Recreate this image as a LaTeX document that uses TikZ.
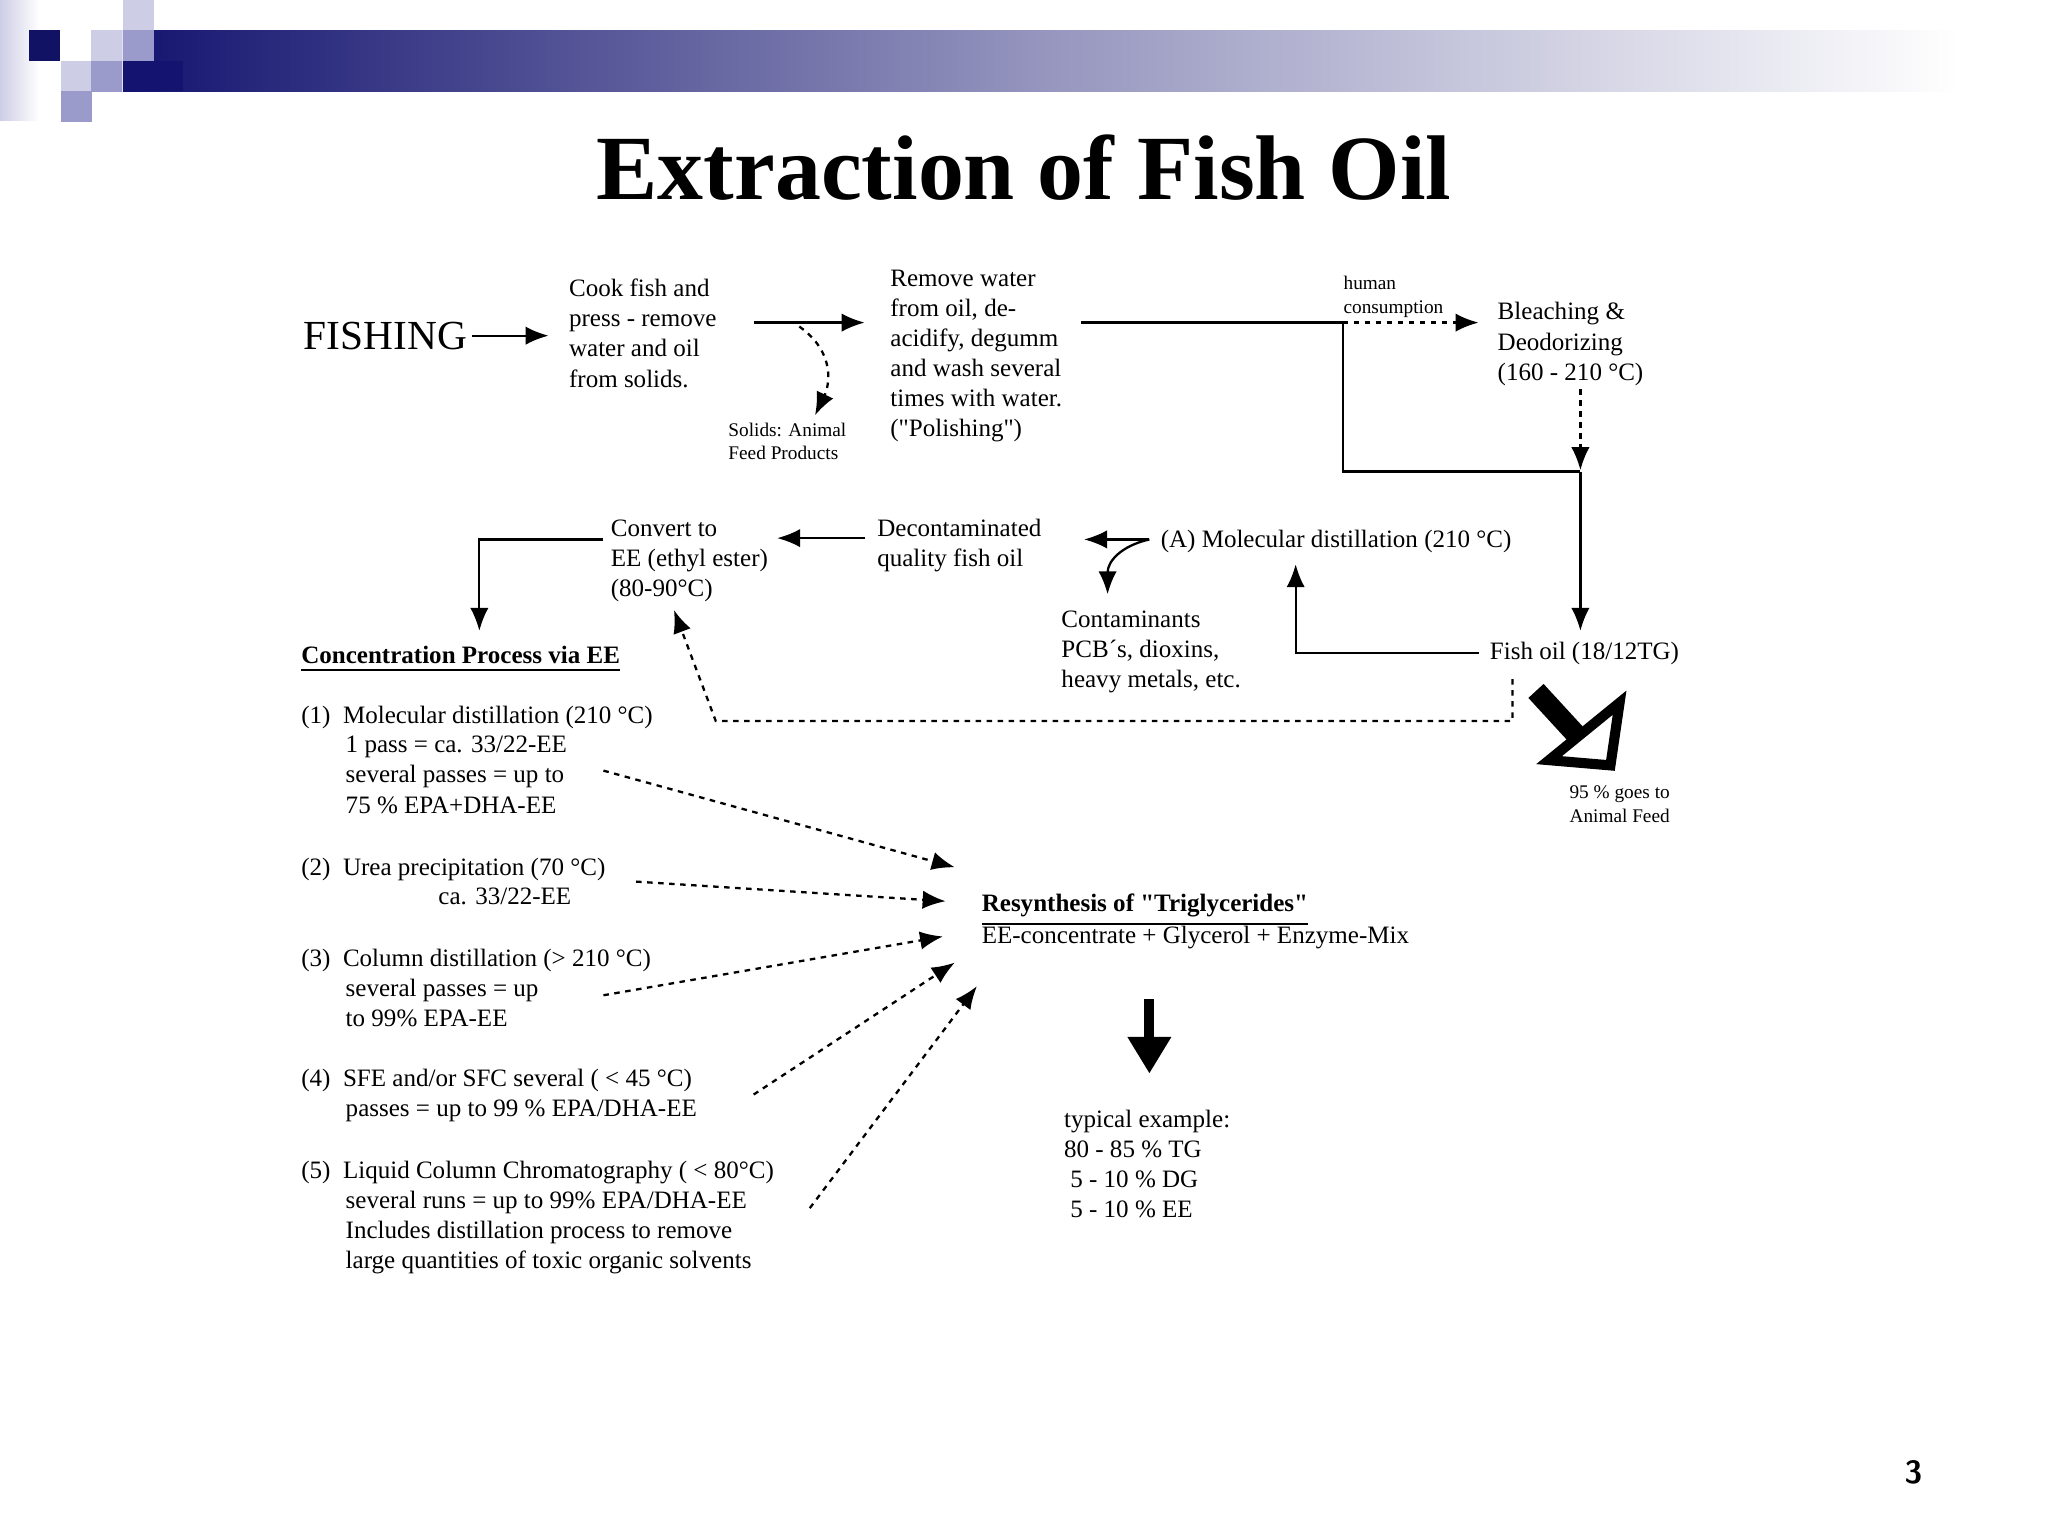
\documentclass[tikz,border=0pt]{standalone}
\usepackage{fontspec}
\setmainfont{Liberation Serif}
\usetikzlibrary{arrows.meta}
\definecolor{navy}{HTML}{141470}
\definecolor{lav}{HTML}{CDCDE6}
\definecolor{med}{HTML}{9A9ACB}
\newcommand{\dq}{\textquotedbl}
\begin{document}
\begin{tikzpicture}[x=0.01cm,y=-0.01cm,
  t/.style={anchor=north west,inner sep=0pt,align=left,font=\fontsize{5.45}{6.55}\selectfont},
  sm/.style={anchor=north west,inner sep=0pt,align=left,font=\fontsize{4.2}{5.1}\selectfont},
  ln/.style={line width=0.5pt},
  ar/.style={ln,-{Latex[length=5pt,width=4pt]}},
  dar/.style={ar,dash pattern=on 1.2pt off 1.2pt}]
\useasboundingbox (0,0) rectangle (1568,1176);
% header decoration
\shade[left color=lav,right color=white] (0,0) rectangle (30,92);
\shade[left color=navy,right color=white,middle color=navy!45!white] (94,23) rectangle (1500,70);
\fill[navy] (94,47) rectangle (140,70);
\def\s{23.7}
\fill[navy!90!black] (22,23) rectangle ++(\s,\s);
\fill[lav] (70,23) rectangle ++(\s,\s);
\fill[lav] (94,0) rectangle ++(\s,\s);
\fill[med] (94,23) rectangle ++(\s,\s);
\fill[lav] (47,47) rectangle ++(\s,\s);
\fill[med] (70,47) rectangle ++(\s,\s);
\fill[med] (47,70) rectangle ++(\s,\s);
% title
\node[inner sep=0pt,font=\bfseries\fontsize{20}{24}\selectfont] (title) at (784,128) {Extraction of Fish Oil};
% top row
\node[inner sep=0pt,anchor=west,font=\fontsize{9}{10}\selectfont] (fish) at (232,257) {FISHING};
\node[t] (cook) at (435,213) {Cook fish and\\press - remove\\water and oil\\from solids.};
\node[t] (remove) at (681,206) {Remove water\\from oil, de-\\acidify, degumm\\and wash several\\times with water.\\(\dq Polishing\dq)};
\node[sm] (solids) at (557,323) {Solids: Animal\\Feed Products};
\node[sm] (human) at (1028,211) {human\\consumption};
\node[t] (bleach) at (1146,231) {Bleaching \&\\Deodorizing\\(160 - 210 °C)};
\draw[ar] (fish.east) ++(3,0) -- (420,257);
\draw[ar] (577,247) -- (662,247);
\draw[dar] (612,250) .. controls (640,270) and (635,295) .. (624,318);
\draw[ln] (828,247) -- (1028,247) -- (1028,361) -- (1210,361);
\draw[dar] (1028,247) -- (1132,247);
\draw[dar] (1210,298) -- (1210,360);
\draw[ar] (1210,361) -- (1210,483);
% middle row
\node[t] (fishoil) at (1140,491) {Fish oil (18/12TG)};
\node[t] (molA) at (888,405) {(A) Molecular distillation (210 °C)};
\node[t] (cont) at (812,467) {Contaminants\\PCB´s, dioxins,\\heavy metals, etc.};
\node[t] (decon) at (671,397) {Decontaminated\\quality fish oil};
\node[t] (conv) at (467,397) {Convert to\\EE (ethyl ester)\\(80-90°C)};
\draw[ar] (1132,500) -- (992,500) -- (992,432);
\draw[ar] (880,413) -- (830,413);
\draw[ar] (880,413) .. controls (858,418) and (848,430) .. (848,455);
\draw[ar] (662,412) -- (595,412);
\draw[ar] (462,413) -- (367,413) -- (367,483);
\draw[dar] (1158,520) -- (1158,552) -- (548,552) -- (516,467);
% big hollow arrow
\draw[line width=4.5pt] (1176,529) -- (1210,566);
\draw[line width=2.2pt,fill=white,line join=miter] (1240,538) -- (1233,586) -- (1186,582) -- cycle;
\node[sm] (feed) at (1201,601) {95 \% goes to\\Animal Feed};
% concentration list
\node[t,font=\bfseries\fontsize{5.45}{6.55}\selectfont] (conc) at (230,494) {\underline{Concentration Process via EE}};
\node[t] (i1) at (230,540) {(1)\ \ Molecular distillation (210 °C)};
\node[t] (i1b) at (264,563) {1 pass = ca. 33/22-EE\\several passes = up to\\75 \% EPA+DHA-EE};
\node[t] (i2) at (230,656) {(2)\ \ Urea precipitation (70 °C)};
\node[t] (i2b) at (335,679) {ca. 33/22-EE};
\node[t] (i3) at (230,726) {(3)\ \ Column distillation (> 210 °C)};
\node[t] (i3b) at (264,749) {several passes = up\\to 99\% EPA-EE};
\node[t] (i4) at (230,818) {(4)\ \ SFE and/or SFC several ( < 45 °C)};
\node[t] (i4b) at (264,841) {passes = up to 99 \% EPA/DHA-EE};
\node[t] (i5) at (230,888) {(5)\ \ Liquid Column Chromatography ( < 80°C)};
\node[t] (i5b) at (264,911) {several runs = up to 99\% EPA/DHA-EE\\Includes distillation process to remove\\large quantities of toxic organic solvents};
\node[t,font=\bfseries\fontsize{5.45}{6.55}\selectfont] (resyn) at (751,684) {\underline{Resynthesis of \dq Triglycerides\dq}};
\node[t] (resyn2) at (751,708) {EE-concentrate + Glycerol + Enzyme-Mix};
\draw[dar] (462,590) -- (731,664);
\draw[dar] (487,675) -- (724,690);
\draw[dar] (462,762) -- (722,717);
\draw[dar] (577,838) -- (731,737);
\draw[dar] (620,925) -- (748,755);
\draw[line width=2.2pt,-{Triangle[length=8pt,width=9pt]}] (880,765) -- (880,822);
\node[t] (typ) at (814,849) {typical example:\\80 - 85 \% TG\\\ 5 - 10 \% DG\\\ 5 - 10 \% EE};
\node[inner sep=0pt,font=\sffamily\bfseries\fontsize{7}{8}\selectfont] (pg) at (1465,1127) {3};
\end{tikzpicture}
\end{document}
